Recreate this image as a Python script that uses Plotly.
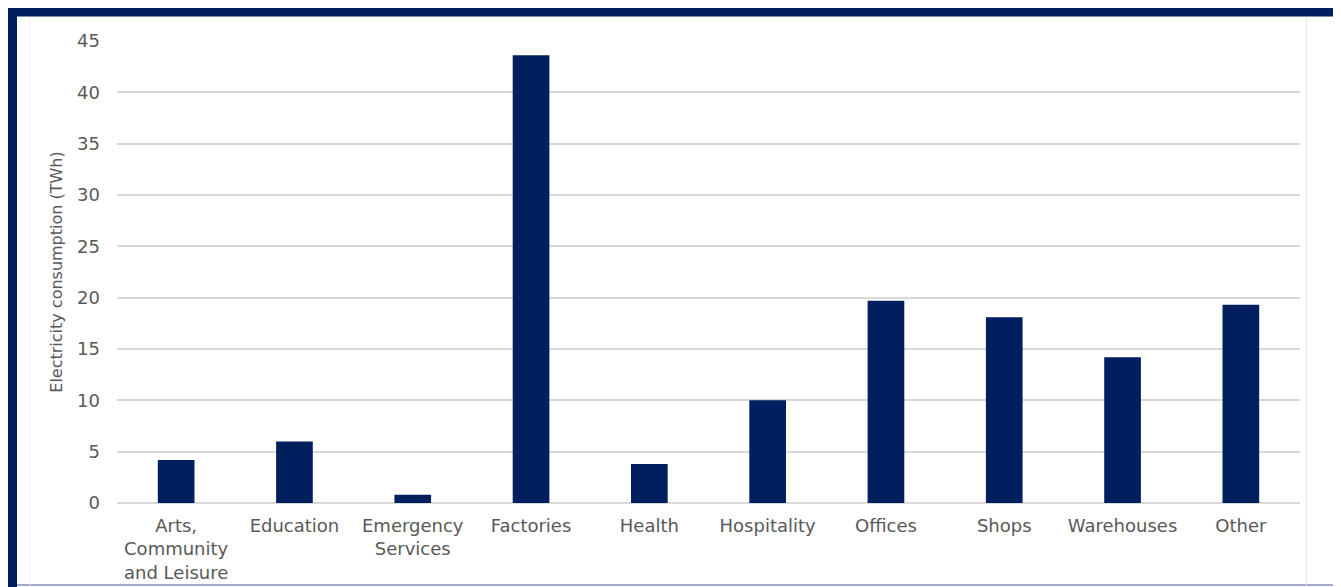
import plotly.graph_objects as go

categories = ["Arts,<br>Community<br>and Leisure", "Education", "Emergency<br>Services",
              "Factories", "Health", "Hospitality", "Offices", "Shops", "Warehouses", "Other"]
values = [4.2, 6.0, 0.8, 43.6, 3.8, 10.0, 19.7, 18.1, 14.2, 19.3]
y_ticks = [0, 5, 10, 15, 20, 25, 30, 35, 40, 45]

O = 8  # default page body margin
W, H = 1341 - O, 587 - O
L, R, T = 117 - O, 41, 41 - O
B = 587 - 503  # plot bottom at page y 503
pw, ph = W - L - R, H - T - B

def px(x):
    return (x - O - L) / pw

def py(y):
    return (H - B - (y - O)) / ph

navy = "#001F5F"
FONT = "DejaVu Sans, Liberation Sans, Arial, sans-serif"

fig = go.Figure(go.Bar(x=categories, y=values, marker=dict(color=navy, line=dict(width=0))))

shapes = [
    dict(type="rect", xref="paper", yref="paper", x0=px(7), x1=px(1341), y0=py(16.5), y1=py(6.5),
         fillcolor=navy, line=dict(width=0), layer="above"),
    dict(type="rect", xref="paper", yref="paper", x0=px(8), x1=px(17), y0=py(590), y1=py(6.5),
         fillcolor=navy, line=dict(width=0), layer="above"),
    dict(type="line", xref="paper", yref="paper", x0=px(17), x1=px(1341), y0=py(585), y1=py(585),
         line=dict(color="#7F8FB5", width=1.5)),
    dict(type="line", xref="paper", yref="paper", x0=px(1306.5), x1=px(1306.5), y0=py(17), y1=py(585),
         line=dict(color="#E6E6E6", width=1)),
    dict(type="line", xref="paper", yref="paper", x0=px(30), x1=px(30), y0=py(17), y1=py(585),
         line=dict(color="#EFEFEF", width=1)),
]

fig.update_layout(
    width=W, height=H,
    margin=dict(l=L, r=R, t=T, b=B, autoexpand=False),
    paper_bgcolor="white", plot_bgcolor="white",
    bargap=0.69,
    showlegend=False,
    font=dict(family=FONT, size=17, color="#595959"),
    shapes=shapes,
    xaxis=dict(showgrid=False, showline=False, ticks="", ticklabelstandoff=10, automargin=False,
               tickfont=dict(family=FONT, size=18, color="#595959")),
    yaxis=dict(range=[0, 45], tickvals=y_ticks, showgrid=True, gridcolor="#D9D9D9", gridwidth=1.5,
               zeroline=True, zerolinecolor="#D9D9D9", zerolinewidth=1.5, showline=False,
               ticks="", ticklen=0, ticklabelstandoff=16, automargin=False,
               tickfont=dict(family=FONT, size=18, color="#595959"),
               title=dict(text="Electricity consumption (TWh)",
                          font=dict(family=FONT, size=16, color="#595959"),
                          standoff=10)),
)

fig.write_html("out.html")
